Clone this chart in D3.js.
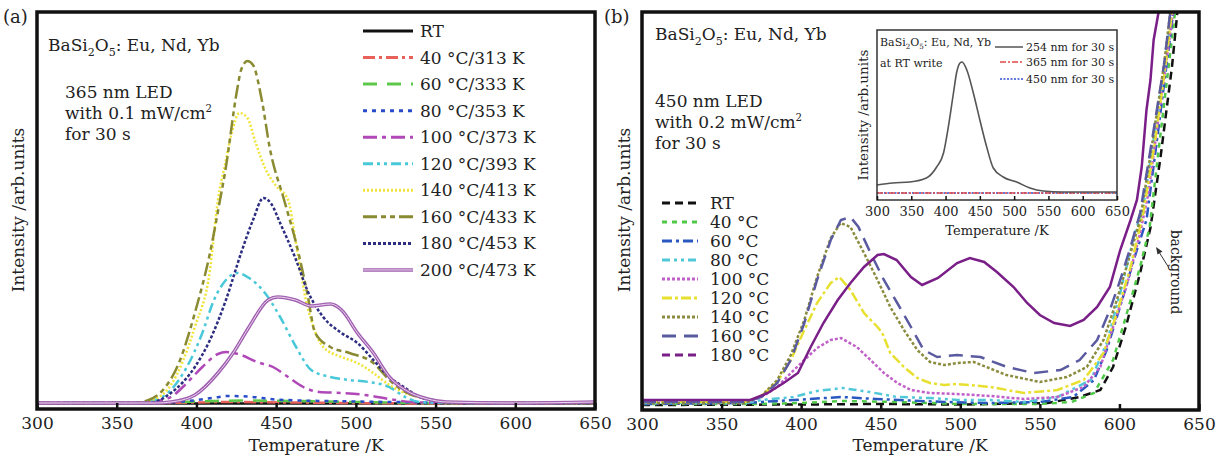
<!DOCTYPE html>
<html>
<head>
<meta charset="utf-8">
<script src="https://cdn.jsdelivr.net/npm/d3@7"></script>
<style>
  body { margin: 0; background: #fff; }
  text { font-family: "DejaVu Serif", serif; fill: #222; }
</style>
</head>
<body>
<div id="chart"></div>
<script>
// ---- data (intensity in arbitrary units) ----
const tempTicks = [300, 350, 400, 450, 500, 550, 600, 650]

// panel (a): 365 nm LED
const labelsA = ["RT", "40 °C/313 K", "60 °C/333 K", "80 °C/353 K", "100 °C/373 K",
  "120 °C/393 K", "140 °C/413 K", "160 °C/433 K", "180 °C/453 K", "200 °C/473 K"]
const a_RT = [[300, 0.5], [650, 0.5]]
const a_40 = [[300, 0.5], [380, 1], [420, 2], [460, 1.5], [550, 0.5], [650, 0.5]]
const a_60 = [[300, 1], [380, 1.5], [410, 3], [430, 3.5], [460, 3], [500, 2], [550, 1], [650, 1]]
const a_80 = [[300, 1], [370, 1], [395, 3], [410, 6], [420, 8], [432, 7.5], [450, 4.5], [480, 3], [500, 2.5], [550, 1.5], [600, 1], [650, 1]]
const a_100 = [[300, 1], [360, 1], [375, 3], [384, 7], [394, 21], [403.7, 37], [413.5, 50], [418.5, 52], [428, 49], [438, 42], [448, 37], [457.5, 27], [467, 17], [477, 12], [491, 11], [506, 9], [521, 5], [535, 2], [560, 1], [650, 1]]
const a_120 = [[300, 1], [360, 1], [374, 4], [384, 14], [394, 37], [403.7, 71], [411, 104], [418.5, 124], [425.6, 131], [433, 126], [443, 111], [452.5, 87], [462.5, 57], [472, 34], [484, 27], [496, 24], [508, 22], [521, 17], [531, 7], [540, 2], [560, 1], [650, 1]]
const a_140 = [[300, 1], [360, 1], [372, 4], [384, 19], [399, 77], [408.5, 134], [413.5, 204], [418, 240], [422, 270], [427, 291], [432, 286], [437, 262], [443, 236], [450, 218], [457.5, 204], [462, 165], [465, 137], [468.5, 105], [472, 84], [479.5, 57], [491, 47], [501, 41], [511, 31], [521, 19], [531, 11], [545, 5], [560, 2], [650, 1]]
const a_160 = [[300, 1], [360, 1], [370, 4], [379, 14], [389, 41], [399, 91], [408.5, 151], [414.8, 204], [418, 232], [425.5, 314], [428, 334], [432, 343], [435.5, 339], [441, 304], [446, 256], [455, 204], [462.5, 161], [469.5, 111], [474.5, 71], [484, 57], [496, 51], [511, 41], [521, 24], [531, 12], [545, 5], [560, 1], [650, 1]]
const a_180 = [[300, 1], [370, 1], [384, 11], [399, 37], [408.5, 64], [418.5, 104], [428, 151], [435.5, 184], [442, 206], [447, 200], [452.5, 181], [462.5, 144], [469.5, 114], [479.5, 87], [491, 71], [501, 61], [511, 44], [521, 27], [531, 16], [540, 7], [550, 3], [565, 1], [650, 1]]
const a_200 = [[300, 1], [375, 1], [384, 2], [399, 9], [413.5, 31], [423, 51], [433, 77], [445, 104], [451, 107], [462, 104], [472, 98], [484, 100], [491, 94], [501, 71], [511, 51], [521, 27], [531, 14], [545, 5], [557, 2], [600, 1], [650, 2]]
const seriesA = [a_RT, a_40, a_60, a_80, a_100, a_120, a_140, a_160, a_180, a_200]

// panel (b): 450 nm LED
const labelsB = ["RT", "40 °C", "60 °C", "80 °C", "100 °C", "120 °C", "140 °C", "160 °C", "180 °C"]
const b_RT = [[300, 0], [400, 0.5], [450, 1], [500, 0.5], [555, 2], [575, 8], [588, 15], [596, 38], [604, 78], [613, 132], [619.6, 178], [626, 250], [633, 338], [635.5, 378], [638, 420]]
const b_40 = [[300, 1], [370, 1], [400, 2], [426, 4], [460, 3], [500, 1], [550, 1], [570, 3], [584, 12], [596, 45], [604, 88], [613, 138], [619, 178], [625, 260], [631, 340], [637, 420]]
const b_60 = [[300, 1], [365, 2], [375, 3], [405, 6], [426, 8], [447, 6], [490, 3], [519, 2], [550, 3], [571, 8], [584, 25], [592, 55], [603, 112], [609, 145], [617, 185], [624, 270], [630, 345], [636, 420]]
const b_80 = [[300, 2], [365, 2], [375, 5], [395, 8], [410, 14], [426, 17], [443, 13], [460, 8], [481, 7], [498, 5], [519, 5], [540, 3], [561, 8], [582, 25], [592, 62], [600.5, 112], [609, 168], [615, 198], [622, 270], [629, 345], [635, 420]]
const b_100 = [[300, 2], [365, 2], [375, 8], [385, 18], [393.5, 32], [402, 45], [410, 57], [418.6, 65], [425, 67], [435, 58], [443.6, 45], [452, 32], [460.4, 22], [469, 15], [481, 12], [498, 11], [519, 9], [540, 6], [561, 8], [577.5, 18], [588, 38], [596, 78], [605, 122], [613, 172], [618, 210], [624, 280], [630, 350], [636, 420]]
const b_120 = [[300, 3], [365, 3], [375, 9], [385, 23], [393.5, 45], [402, 75], [410, 102], [418.6, 122], [424, 128], [431, 115], [439.5, 92], [448, 78], [451, 72], [456, 52], [464.6, 38], [473, 27], [481, 22], [490, 20], [498, 21], [519, 18], [540, 12], [561, 15], [577.5, 25], [590, 52], [598.4, 92], [607, 138], [615, 192], [622, 260], [629, 340], [635, 420]]
const b_140 = [[300, 2], [365, 2], [375, 9], [385, 25], [393.5, 50], [402, 85], [410, 128], [418.6, 167], [424.8, 182], [431, 178], [439.5, 152], [448, 125], [456, 98], [464.6, 75], [473, 55], [481, 43], [490, 40], [498, 42], [508.5, 43], [529, 30], [550, 23], [567, 28], [579.5, 38], [590, 65], [598.4, 105], [607, 152], [613, 185], [620, 255], [628, 340], [634, 420]]
const b_160 = [[300, 3], [365, 3], [375, 8], [385, 22], [393.5, 45], [402, 82], [410, 125], [418.6, 165], [425, 185], [431, 188], [436, 178], [443.6, 152], [452, 125], [460.4, 102], [469, 78], [477, 55], [485.5, 48], [498, 50], [512.7, 48], [529.4, 38], [546, 32], [563, 35], [575, 45], [586, 65], [594, 95], [600.5, 125], [607, 158], [613, 192], [620, 260], [628, 340], [634, 420]]
const b_180 = [[300, 5], [330, 5], [368, 5], [379, 12], [389, 22], [398, 32], [406, 58], [414, 82], [423, 105], [431, 122], [439.5, 138], [448, 150], [452, 151], [460, 145], [469, 128], [476, 120], [486, 127], [498, 142], [506, 147], [515, 143], [523, 133], [533.5, 118], [542, 102], [550, 90], [559, 82], [569, 79], [577.5, 85], [586, 98], [594, 118], [600.5, 155], [607, 185], [611, 205], [614, 238], [617, 295], [619.5, 325], [621.5, 365], [624.5, 392], [627, 430]]
const seriesB = [b_RT, b_40, b_60, b_80, b_100, b_120, b_140, b_160, b_180]

// inset: write at RT
const labelsInset = ["254 nm for 30 s", "365 nm for 30 s", "450 nm for 30 s"]
const in_254 = [[300, 8], [323, 10], [348, 11], [372, 15], [387, 26], [397, 40], [404, 66], [411.5, 100], [416, 120], [421, 130], [424, 131], [431, 123], [440.5, 100], [450, 73], [460, 46], [469.6, 25], [484, 16], [503.7, 11], [523, 5], [542.5, 2], [571, 1], [650, 1]]
const in_365 = [[300, 0], [650, 0]]
const in_450 = [[300, 0], [650, 0]]
const seriesInset = [in_254, in_365, in_450]

// ---- styles ----
const colorsA = ["#111", "#e8605a", "#5cc84a", "#2a4cc8", "#b048b8", "#48c8d8", "#f0e438", "#8a8a32", "#2c2c80", "#a060b0"]
const dashesA = [null, "12,4,3,4", "14,10", "4,5", "14,5,4,5", "10,4,3,4,3,4", "2,2", "14,4,5,4,5,4", "3,2", null]
const colorsB = ["#111", "#50c848", "#2a58c0", "#50c8d8", "#c060c8", "#e8e030", "#8c8c40", "#5a5aa0", "#7a1e88"]
const dashesB = ["8,5", "5,5", "10,4,3,4", "8,4,3,4,3,4", "3,2", "10,3,3,3", "3,2", "14,8", "8,5"]
const colorsInset = ["#555", "#e04848", "#3050d0"]
const dashesInset = [null, "6,2,2,2", "2,1.5"]

const svg = d3.select("#chart").append("svg")
  .attr("width", 1225).attr("height", 457)

function bottomTicks(x, y0, tick, pad, fs, sw) {
  svg.append("g")
    .attr("transform", `translate(0,${y0})`)
    .call(d3.axisBottom(x).tickValues(tempTicks).tickSize(-tick).tickPadding(pad).tickFormat(d3.format("d")))
    .call(g => g.select(".domain").remove())
    .call(g => g.selectAll("line").attr("stroke", "#111").attr("stroke-width", sw))
    .call(g => g.selectAll("text").attr("font-size", fs).attr("font-family", "DejaVu Serif").attr("fill", "#222"))
}

// formula text with sub/superscripts
function formula(x, y, fs) {
  const t = svg.append("text").attr("x", x).attr("y", y).attr("font-size", fs)
  const sub = fs * 0.3
  t.append("tspan").text("BaSi")
  t.append("tspan").text("2").attr("font-size", fs * 0.65).attr("dy", sub)
  t.append("tspan").text("O").attr("dy", -sub)
  t.append("tspan").text("5").attr("font-size", fs * 0.65).attr("dy", sub)
  t.append("tspan").text(": Eu, Nd, Yb").attr("dy", -sub)
}

function ledText(x, y, nm, power, fs) {
  svg.append("text").attr("x", x).attr("y", y).attr("font-size", fs).text(nm + " nm LED")
  const t = svg.append("text").attr("x", x).attr("y", y + 21).attr("font-size", fs)
  t.append("tspan").text("with " + power + " mW/cm")
  t.append("tspan").text("2").attr("font-size", fs * 0.6).attr("dy", -7)
  svg.append("text").attr("x", x).attr("y", y + 42).attr("font-size", fs).text("for 30 s")
}

function frame(x0, y0, x1, y1, sw, color) {
  svg.append("rect").attr("x", x0).attr("y", y0)
    .attr("width", x1 - x0).attr("height", y1 - y0)
    .attr("fill", "none").attr("stroke", color).attr("stroke-width", sw)
}

function ylabel(x, y, fs, txt) {
  svg.append("text").attr("transform", `translate(${x},${y}) rotate(-90)`)
    .attr("text-anchor", "middle").attr("dominant-baseline", "central")
    .attr("font-size", fs).text(txt)
}

// ================= panel (a) =================
const xA = d3.scaleLinear().domain([300, 650]).range([37, 595])
const yA = d3.scaleLinear().domain([0, 394]).range([404, 10])
const lineA = d3.line().x(d => xA(d[0])).y(d => yA(d[1])).curve(d3.curveMonotoneX)

svg.append("defs").append("clipPath").attr("id", "clipA")
  .append("rect").attr("x", 37).attr("y", 12).attr("width", 558).attr("height", 397)

const gA = svg.append("g").attr("clip-path", "url(#clipA)")
seriesA.forEach((s, i) => {
  if (i == 9) {
    // the 200 °C trace is a hollow double line in the figure
    gA.append("path").attr("d", lineA(s)).attr("fill", "none").attr("stroke", colorsA[i]).attr("stroke-width", 3.5)
    gA.append("path").attr("d", lineA(s)).attr("fill", "none").attr("stroke", "#ecd6f0").attr("stroke-width", 1)
  } else {
    gA.append("path").attr("d", lineA(s)).attr("fill", "none")
      .attr("stroke", colorsA[i]).attr("stroke-width", 2.5)
      .attr("stroke-dasharray", dashesA[i])
  }
})
frame(37, 12, 595, 409, 3.5, "#111")
bottomTicks(xA, 409, 6, 8, 17, 2.5)

// legend (a)
labelsA.forEach((lab, i) => {
  const y = 31 + i * 26.55
  if (i == 9) {
    svg.append("line").attr("x1", 363).attr("x2", 413).attr("y1", y).attr("y2", y).attr("stroke", colorsA[i]).attr("stroke-width", 3.5)
    svg.append("line").attr("x1", 363).attr("x2", 413).attr("y1", y).attr("y2", y).attr("stroke", "#ecd6f0").attr("stroke-width", 1)
  } else {
    svg.append("line").attr("x1", 363).attr("x2", 413).attr("y1", y).attr("y2", y)
      .attr("stroke", colorsA[i]).attr("stroke-width", 3).attr("stroke-dasharray", dashesA[i])
  }
  svg.append("text").attr("x", 420).attr("y", y + 6).attr("font-size", 17).text(lab)
})

formula(48, 51, 17)
ledText(65, 98, "365", "0.1", 17)
svg.append("text").attr("x", 3).attr("y", 23).attr("font-size", 18).text("(a)")
ylabel(18, 210, 17, "Intensity /arb.units")
svg.append("text").attr("x", 316).attr("y", 451).attr("text-anchor", "middle").attr("font-size", 17).text("Temperature /K")

// ================= panel (b) =================
const xB = d3.scaleLinear().domain([300, 650]).range([642, 1199])
const yB = d3.scaleLinear().domain([0, 393]).range([405, 12])
const lineB = d3.line().x(d => xB(d[0])).y(d => yB(d[1])).curve(d3.curveLinear)

svg.select("defs").append("clipPath").attr("id", "clipB")
  .append("rect").attr("x", 642).attr("y", 12).attr("width", 557).attr("height", 398)

const gB = svg.append("g").attr("clip-path", "url(#clipB)")
seriesB.forEach((s, i) => {
  gB.append("path").attr("d", lineB(s)).attr("fill", "none")
    .attr("stroke", colorsB[i]).attr("stroke-width", 2.5)
    .attr("stroke-dasharray", i == 8 ? null : dashesB[i])
})
frame(642, 12, 1199, 410, 3.5, "#111")
bottomTicks(xB, 410, 6, 8, 17, 2.5)

labelsB.forEach((lab, i) => {
  const y = 203 + i * 19
  svg.append("line").attr("x1", 662).attr("x2", 698).attr("y1", y).attr("y2", y)
    .attr("stroke", colorsB[i]).attr("stroke-width", 3).attr("stroke-dasharray", dashesB[i])
  svg.append("text").attr("x", 710).attr("y", y + 6).attr("font-size", 17).text(lab)
})

formula(655, 40, 17)
ledText(655, 107, "450", "0.2", 17)
svg.append("text").attr("x", 604).attr("y", 23).attr("font-size", 18).text("(b)")
ylabel(624, 210, 17, "Intensity /arb.units")
svg.append("text").attr("x", 920).attr("y", 451).attr("text-anchor", "middle").attr("font-size", 17).text("Temperature /K")

// background annotation
svg.append("text").attr("transform", "translate(1176,272) rotate(90)")
  .attr("text-anchor", "middle").attr("dominant-baseline", "central")
  .attr("font-size", 14).text("background")
svg.append("line").attr("x1", 1169).attr("y1", 268).attr("x2", 1159).attr("y2", 252)
  .attr("stroke", "#333").attr("stroke-width", 1)
svg.append("path").attr("d", "M1156,247 L1162.5,251.5 L1157.5,254.5 Z").attr("fill", "#333")

// ================= inset =================
const xI = d3.scaleLinear().domain([300, 650]).range([877, 1117])
const yI = d3.scaleLinear().domain([-7, 163]).range([200, 30])
const lineI = d3.line().x(d => xI(d[0])).y(d => yI(d[1])).curve(d3.curveMonotoneX)

svg.append("rect").attr("x", 877).attr("y", 30).attr("width", 240).attr("height", 170).attr("fill", "#fff")
seriesInset.slice().reverse().forEach((s, j) => {
  const i = 2 - j
  svg.append("path").attr("d", lineI(s)).attr("fill", "none")
    .attr("stroke", colorsInset[i]).attr("stroke-width", i == 0 ? 1.6 : 1.3)
    .attr("stroke-dasharray", dashesInset[i])
})
frame(877, 30, 1117, 200, 1.5, "#333")
bottomTicks(xI, 200, 4, 7, 13, 1.5)

formula(880, 46, 11)
svg.append("text").attr("x", 880).attr("y", 67).attr("font-size", 11).text("at RT write")
labelsInset.forEach((lab, i) => {
  const y = [47, 62, 79][i]
  svg.append("line").attr("x1", i == 0 ? 995 : 1000).attr("x2", 1023).attr("y1", y).attr("y2", y)
    .attr("stroke", colorsInset[i]).attr("stroke-width", 1.5).attr("stroke-dasharray", dashesInset[i])
  svg.append("text").attr("x", 1026).attr("y", y + 4).attr("font-size", 11).text(lab)
})
ylabel(863, 115, 13.5, "Intensity /arb.units")
svg.append("text").attr("x", 997).attr("y", 235).attr("text-anchor", "middle").attr("font-size", 13).text("Temperature /K")
</script>
</body>
</html>
